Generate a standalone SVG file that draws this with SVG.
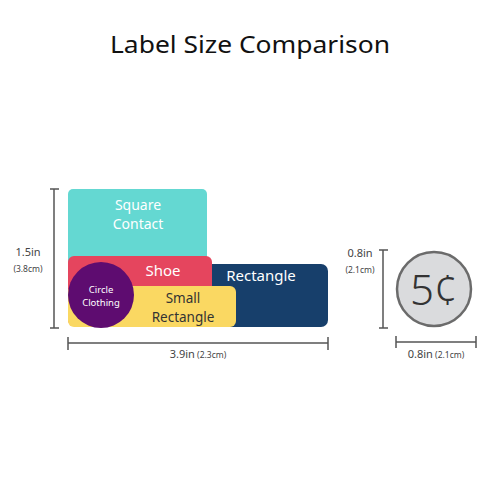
<svg xmlns="http://www.w3.org/2000/svg" width="500" height="500" viewBox="0 0 500 500">
<style>
text{font-family:"Noto Sans","Open Sans","Liberation Sans",sans-serif}
.w{fill:#fff}
.d{fill:#333}
.dim{stroke:#555;stroke-width:1.5;fill:none}
.s{font-size:8.5px;fill:#444}
.m{font-size:11px;fill:#444}
</style>
<rect width="500" height="500" fill="#fff"/>
<text x="250" y="53" text-anchor="middle" font-size="24" fill="#111" textLength="280" lengthAdjust="spacingAndGlyphs">Label Size Comparison</text>
<g id="rectangle"><rect x="180" y="264" width="148" height="63" rx="7" fill="#173F6B"/><text x="261" y="281" text-anchor="middle" font-size="15" class="w">Rectangle</text></g>
<g id="square-contact"><rect x="68" y="189" width="139" height="90" rx="5" fill="#64D8D2"/><text x="138" y="210" text-anchor="middle" font-size="14" class="w">Square</text><text x="138" y="229" text-anchor="middle" font-size="14" class="w">Contact</text></g>
<g id="shoe"><rect x="68" y="256" width="144" height="70" rx="6" fill="#E5455E"/><text x="163" y="276" text-anchor="middle" font-size="15" class="w">Shoe</text></g>
<g id="small-rectangle"><rect x="68" y="286" width="168" height="41" rx="6" fill="#FAD862"/><text x="183" y="303" text-anchor="middle" font-size="13.5" class="d">Small</text><text x="183" y="321.5" text-anchor="middle" font-size="13.5" class="d">Rectangle</text></g>
<g id="circle-clothing"><circle cx="101" cy="295" r="33" fill="#5E0C70"/><text x="101" y="293" text-anchor="middle" font-size="9.5" class="w">Circle</text><text x="101" y="306" text-anchor="middle" font-size="9.5" class="w">Clothing</text></g>
<g id="coin"><circle cx="434" cy="289" r="37" fill="#DADBDD" stroke="#6B6B6B" stroke-width="2.5"/><text x="434" y="305" text-anchor="middle" font-size="42" font-weight="300" fill="#333">5¢</text></g>
<g id="connectors">
<path class="dim" d="M54 189V328M50 189H59M50 328H59"/>
<path class="dim" d="M68 343H328M68 337V350M328 337V350"/>
<path class="dim" d="M383 250V328M379 250H388M379 328H388"/>
<path class="dim" d="M396 342H476M396 336V348M476 336V348"/>
</g>
<text x="28" y="256" text-anchor="middle" class="m">1.5in</text>
<text x="28" y="272" text-anchor="middle" class="s">(3.8cm)</text>
<text x="360" y="257" text-anchor="middle" class="m">0.8in</text>
<text x="360" y="273" text-anchor="middle" class="s">(2.1cm)</text>
<text x="198" y="358" text-anchor="middle"><tspan class="m">3.9in</tspan><tspan class="s"> (2.3cm)</tspan></text>
<text x="436" y="358" text-anchor="middle"><tspan class="m">0.8in</tspan><tspan class="s"> (2.1cm)</tspan></text>
</svg>
